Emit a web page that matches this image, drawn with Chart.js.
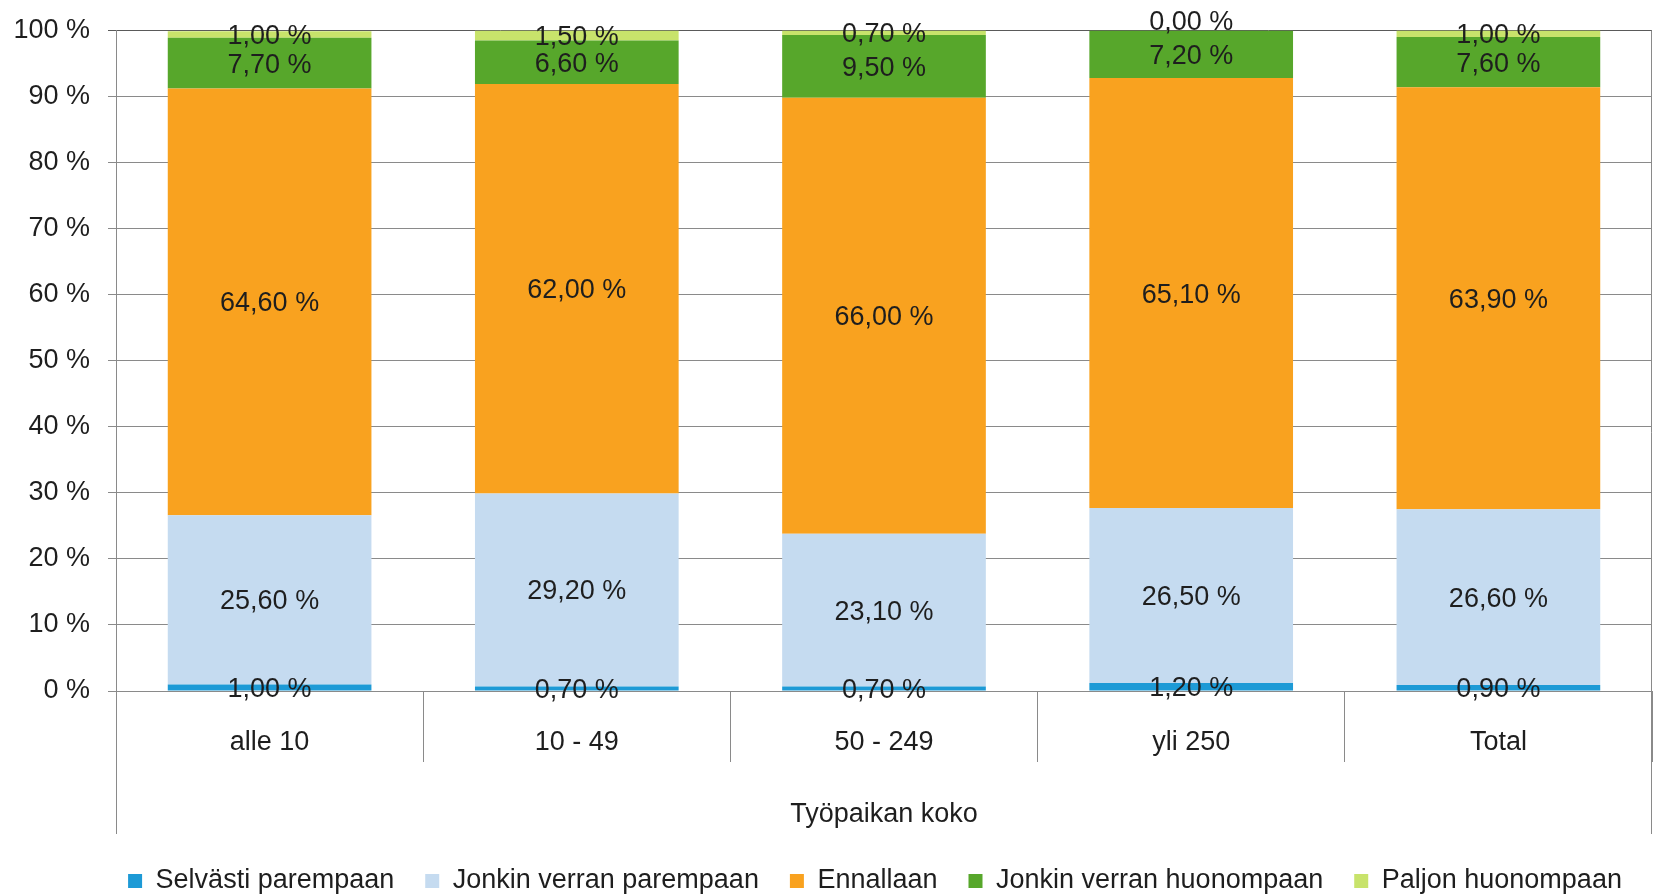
<!DOCTYPE html>
<html><head><meta charset="utf-8">
<script src="https://cdn.jsdelivr.net/npm/chart.js@4"></script>
<style>html,body{margin:0;padding:0;background:#fff}</style>
</head><body>
<canvas id="c" width="1655" height="895"></canvas>
<script>
const categories = ['alle 10', '10 - 49', '50 - 249', 'yli 250', 'Total'];
const seriesNames = ['Selvästi parempaan', 'Jonkin verran parempaan', 'Ennallaan', 'Jonkin verran huonompaan', 'Paljon huonompaan'];
const selvastiParempaan = [1.00, 0.70, 0.70, 1.20, 0.90];
const jonkinVerranParempaan = [25.60, 29.20, 23.10, 26.50, 26.60];
const ennallaan = [64.60, 62.00, 66.00, 65.10, 63.90];
const jonkinVerranHuonompaan = [7.70, 6.60, 9.50, 7.20, 7.60];
const paljonHuonompaan = [1.00, 1.50, 0.70, 0.00, 1.00];
const yTickValues = [0, 10, 20, 30, 40, 50, 60, 70, 80, 90, 100];
const axisTitle = 'Työpaikan koko';

const colors = ['#1D9AD6', '#C5DBF0', '#F9A21F', '#57A72B', '#C8E36B'];
const seriesData = [selvastiParempaan, jonkinVerranParempaan, ennallaan, jonkinVerranHuonompaan, paljonHuonompaan];
const FONT = '"Liberation Sans", Arial, sans-serif';
const FS = 27;
const GRID = '#8a8a8a';
const TXT = '#1e1e1e';

const fmt = v => v.toFixed(2).replace('.', ',') + ' %';

const labelPlugin = {
  id: 'valueLabels',
  afterDatasetsDraw(chart) {
    const ctx = chart.ctx;
    ctx.save();
    ctx.font = FS + 'px ' + FONT;
    ctx.fillStyle = TXT;
    ctx.textAlign = 'center';
    ctx.textBaseline = 'middle';
    chart.data.datasets.forEach((ds, di) => {
      const meta = chart.getDatasetMeta(di);
      meta.data.forEach((el, i) => {
        const p = el.getCenterPoint();
        const dy = ds.data[i] === 0 ? -8 : 2;
        ctx.fillText(fmt(ds.data[i]), p.x, p.y + dy);
      });
    });
    ctx.restore();
  }
};

const framePlugin = {
  id: 'frameLines',
  afterLayout(chart) {
    const L = chart.legend;
    if (L) { L.left += 49; L.right += 49; }
  },
  afterDraw(chart) {
    const ctx = chart.ctx, a = chart.chartArea;
    ctx.save();
    ctx.strokeStyle = GRID;
    ctx.lineWidth = 1;
    ctx.beginPath();
    ctx.moveTo(Math.round(a.left) + 0.5, a.top);
    ctx.lineTo(Math.round(a.left) + 0.5, 834);
    ctx.moveTo(Math.round(a.right) - 0.5, a.top);
    ctx.lineTo(Math.round(a.right) - 0.5, 834);
    ctx.stroke();
    ctx.restore();
  }
};

new Chart(document.getElementById('c'), {
  type: 'bar',
  data: {
    labels: categories,
    datasets: seriesData.map((d, i) => ({
      label: seriesNames[i],
      data: d,
      backgroundColor: colors[i],
      borderWidth: 0,
      categoryPercentage: 1,
      barPercentage: 0.663
    }))
  },
  options: {
    responsive: false,
    animation: false,
    devicePixelRatio: 1,
    layout: { padding: { left: 0, right: 3, top: 30.5, bottom: -9.5 } },
    plugins: {
      tooltip: { enabled: false },
      legend: {
        position: 'bottom',
        labels: {
          font: { family: FONT, size: FS },
          color: TXT,
          boxWidth: 14,
          boxHeight: 14,
          padding: 31
        }
      }
    },
    scales: {
      x: {
        stacked: true,
        grid: { offset: true, drawOnChartArea: false, color: GRID, tickLength: 71 },
        border: { display: true, color: GRID },
        ticks: { font: { family: FONT, size: FS }, color: TXT, padding: -36, maxRotation: 0 },
        title: { display: true, text: axisTitle, font: { family: FONT, size: FS }, color: TXT, padding: { top: 0, bottom: 6 } },
        afterFit(s) { s.height = 145.5; }
      },
      y: {
        stacked: true,
        min: 0, max: 100,
        afterBuildTicks(s) { s.ticks = yTickValues.map(v => ({ value: v })); },
        grid: { color: c => (c.tick && c.tick.value === 100 ? '#5a5a5a' : GRID), tickLength: 8 },
        border: { display: true, color: GRID },
        ticks: { font: { family: FONT, size: FS }, color: TXT, padding: 18, callback: v => v + ' %' },
        afterFit(s) { s.width = 116; s.paddingTop = 0; s.paddingBottom = 0; }
      }
    }
  },
  plugins: [labelPlugin, framePlugin]
});
</script>
</body></html>
